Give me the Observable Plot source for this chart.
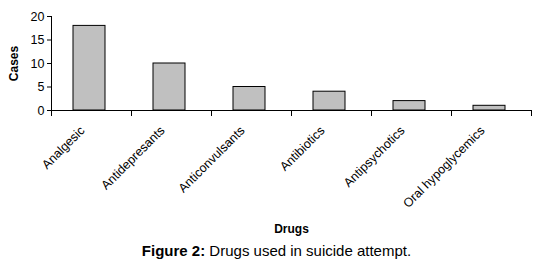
<!DOCTYPE html>
<html>
<head>
<meta charset="utf-8">
<script src="https://cdn.jsdelivr.net/npm/d3@7"></script>
<script src="https://cdn.jsdelivr.net/npm/@observablehq/plot@0.6"></script>
<style>
  body { margin: 0; background: #fff; font-family: "Liberation Sans", Arial, sans-serif; }
  #cap { width: 537px; text-align: center; font-size: 15px; line-height: 17px; color: #000; margin-top: 4px; }
  #cap span { display: inline-block; margin-left: 16px; }
</style>
</head>
<body>
<div id="chart"></div>
<div id="cap"><span><b>Figure 2:</b> Drugs used in suicide attempt.</span></div>
<script>
const categories = ["Analgesic", "Antidepresants", "Anticonvulsants", "Antibiotics", "Antipsychotics", "Oral hypoglycemics"];
const cases = [18, 10, 5, 4, 2, 1];
const yTicks = [0, 5, 10, 15, 20];

const data = categories.map((c, i) => ({drug: c, cases: cases[i]}));

const W = 537, mL = 51, mR = 6;
const step = (W - mL - mR) / categories.length;

const chart = Plot.plot({
  width: W,
  height: 238,
  marginLeft: mL,
  marginRight: mR,
  marginTop: 16,
  marginBottom: 128,
  style: {fontFamily: "'Liberation Sans', Arial, sans-serif", fontSize: "12px", color: "#000", background: "#fff"},
  x: {domain: categories, paddingInner: 0.6, paddingOuter: 0.3},
  y: {domain: [0, 20]},
  marks: [
    Plot.barY(data, {x: "drug", y: "cases", fill: "#c0c0c0", stroke: "#000", strokeWidth: 1, dx: -2}),
    Plot.frame({anchor: "left", stroke: "#000"}),
    Plot.ruleY([0], {stroke: "#000"}),
    Plot.axisY({ticks: yTicks, tickSize: 4, tickPadding: 3, fontSize: 12.5, label: "Cases", labelAnchor: "center", labelArrow: "none", labelOffset: 42, fontWeight: "normal"}),
    Plot.axisX({tickSize: 0, tickRotate: -45, tickPadding: 18, fontSize: 12.5, dx: -9, label: null}),
    Plot.axisX({tickSize: 6, text: null, dx: -step / 2, label: null}),
    Plot.axisX({ticks: [categories[categories.length - 1]], tickSize: 6, text: null, dx: step / 2, label: null}),
    Plot.axisX({tickSize: 0, text: null, label: "Drugs", labelAnchor: "center", labelArrow: "none", labelOffset: 122})
  ]
});

// bold axis titles
chart.querySelectorAll("[aria-label='x-axis label'] text, [aria-label='y-axis label'] text").forEach(t => {
  t.setAttribute("font-weight", "bold");
  t.setAttribute("font-size", "12px");
});

document.getElementById("chart").appendChild(chart);
</script>
</body>
</html>
